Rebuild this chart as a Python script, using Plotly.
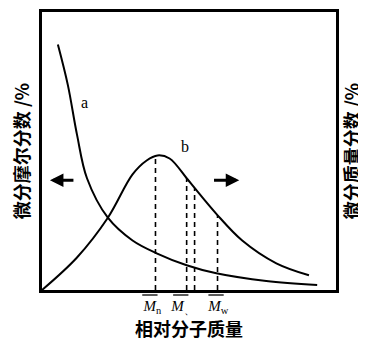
import numpy as np
import plotly.graph_objects as go

# Curve a: differential mole fraction (left axis)
a_x = [5.4, 8.8, 11.9, 15.3, 22.4, 30.8, 39.0, 49.2, 59.3, 76.3, 93.6]
a_y = [88.3, 73.7, 55.9, 40.2, 26.0, 17.8, 13.2, 8.9, 6.0, 3.2, 1.8]

# Curve b: differential mass fraction (right axis)
b_x = [0.0, 11.9, 22.4, 30.8, 35.6, 39.3, 43.4, 49.2, 51.9, 59.3, 68.1, 79.7, 90.8]
b_y = [0.0, 11.7, 26.0, 41.6, 46.6, 48.4, 47.3, 40.2, 36.7, 27.4, 17.8, 9.6, 5.3]

# average molecular weights (dashed lines) and tick labels
avg_x = [38.6, 49.2, 51.9, 59.7]
avg_label_x = [37.5, 48.0, 60.0]
avg_subs = ["n", "、", "w"]

curve_names = ["a", "b"]
y_left_title = "微分摩尔分数 /%"
y_right_title = "微分质量分数 /%"
x_title = "相对分子质量"

cjk = "Noto Sans CJK SC"
serif = "Liberation Serif"

fig = go.Figure()
fig.add_trace(go.Scatter(x=a_x, y=a_y, mode="lines", line=dict(color="black", width=2, shape="spline", smoothing=1.0), showlegend=False))
fig.add_trace(go.Scatter(x=b_x, y=b_y, mode="lines", yaxis="y2", line=dict(color="black", width=2, shape="spline", smoothing=1.0), showlegend=False))

for xv in avg_x:
    top = float(np.interp(xv, b_x, b_y))
    fig.add_trace(go.Scatter(x=[xv, xv], y=[0, top], mode="lines", yaxis="y2",
                             line=dict(color="black", width=1.6, dash="5px,4px"), showlegend=False))

for xv in avg_label_x:
    fig.add_shape(type="line", xref="x", yref="paper", x0=xv - 3.4, x1=xv + 1.8, y0=-0.018, y1=-0.018,
                  line=dict(color="black", width=1.3))

fig.add_annotation(x=14.6, y=67.6, text=curve_names[0], showarrow=False, font=dict(family=serif, size=16, color="black"))
fig.add_annotation(x=48.5, y=51.6, text=curve_names[1], showarrow=False, font=dict(family=serif, size=16, color="black"))

# arrows
fig.add_annotation(x=2.7, y=39.5, ax=11.2, ay=39.5, axref="x", ayref="y", xref="x", yref="y", text="",
                   showarrow=True, arrowhead=2, arrowsize=0.9, arrowwidth=3, arrowcolor="black")
fig.add_annotation(x=67.1, y=39.5, ax=58.0, ay=39.5, axref="x", ayref="y", xref="x", yref="y", text="",
                   showarrow=True, arrowhead=2, arrowsize=0.9, arrowwidth=3, arrowcolor="black")

fig.update_layout(
    xaxis=dict(range=[0, 100], showgrid=False, zeroline=False, ticks="",
               tickvals=avg_label_x,
               ticktext=["<i>M</i><sub>" + s + "</sub>" for s in avg_subs],
               tickfont=dict(family=serif, size=15, color="black"),
               showline=True, linecolor="black", linewidth=3, mirror=True,
               title=dict(text="<b>" + x_title + "</b>", font=dict(family=cjk, size=18, color="black"), standoff=2)),
    yaxis=dict(range=[0, 100], showgrid=False, zeroline=False, showticklabels=False, ticks="",
               showline=True, linecolor="black", linewidth=3, mirror=True,
               title=dict(text="<b>" + y_left_title + "</b>", font=dict(family=cjk, size=18, color="black"), standoff=10)),
    yaxis2=dict(range=[0, 100], overlaying="y", side="right", showgrid=False, zeroline=False,
                showticklabels=False, ticks="", showline=False,
                title=dict(text="<b>" + y_right_title + "</b>", font=dict(family=cjk, size=18, color="black"), standoff=10)),
    width=358, height=333, margin=dict(l=34, r=30, t=1, b=51),
    plot_bgcolor="white", paper_bgcolor="white",
)

fig.write_html("out.html")
